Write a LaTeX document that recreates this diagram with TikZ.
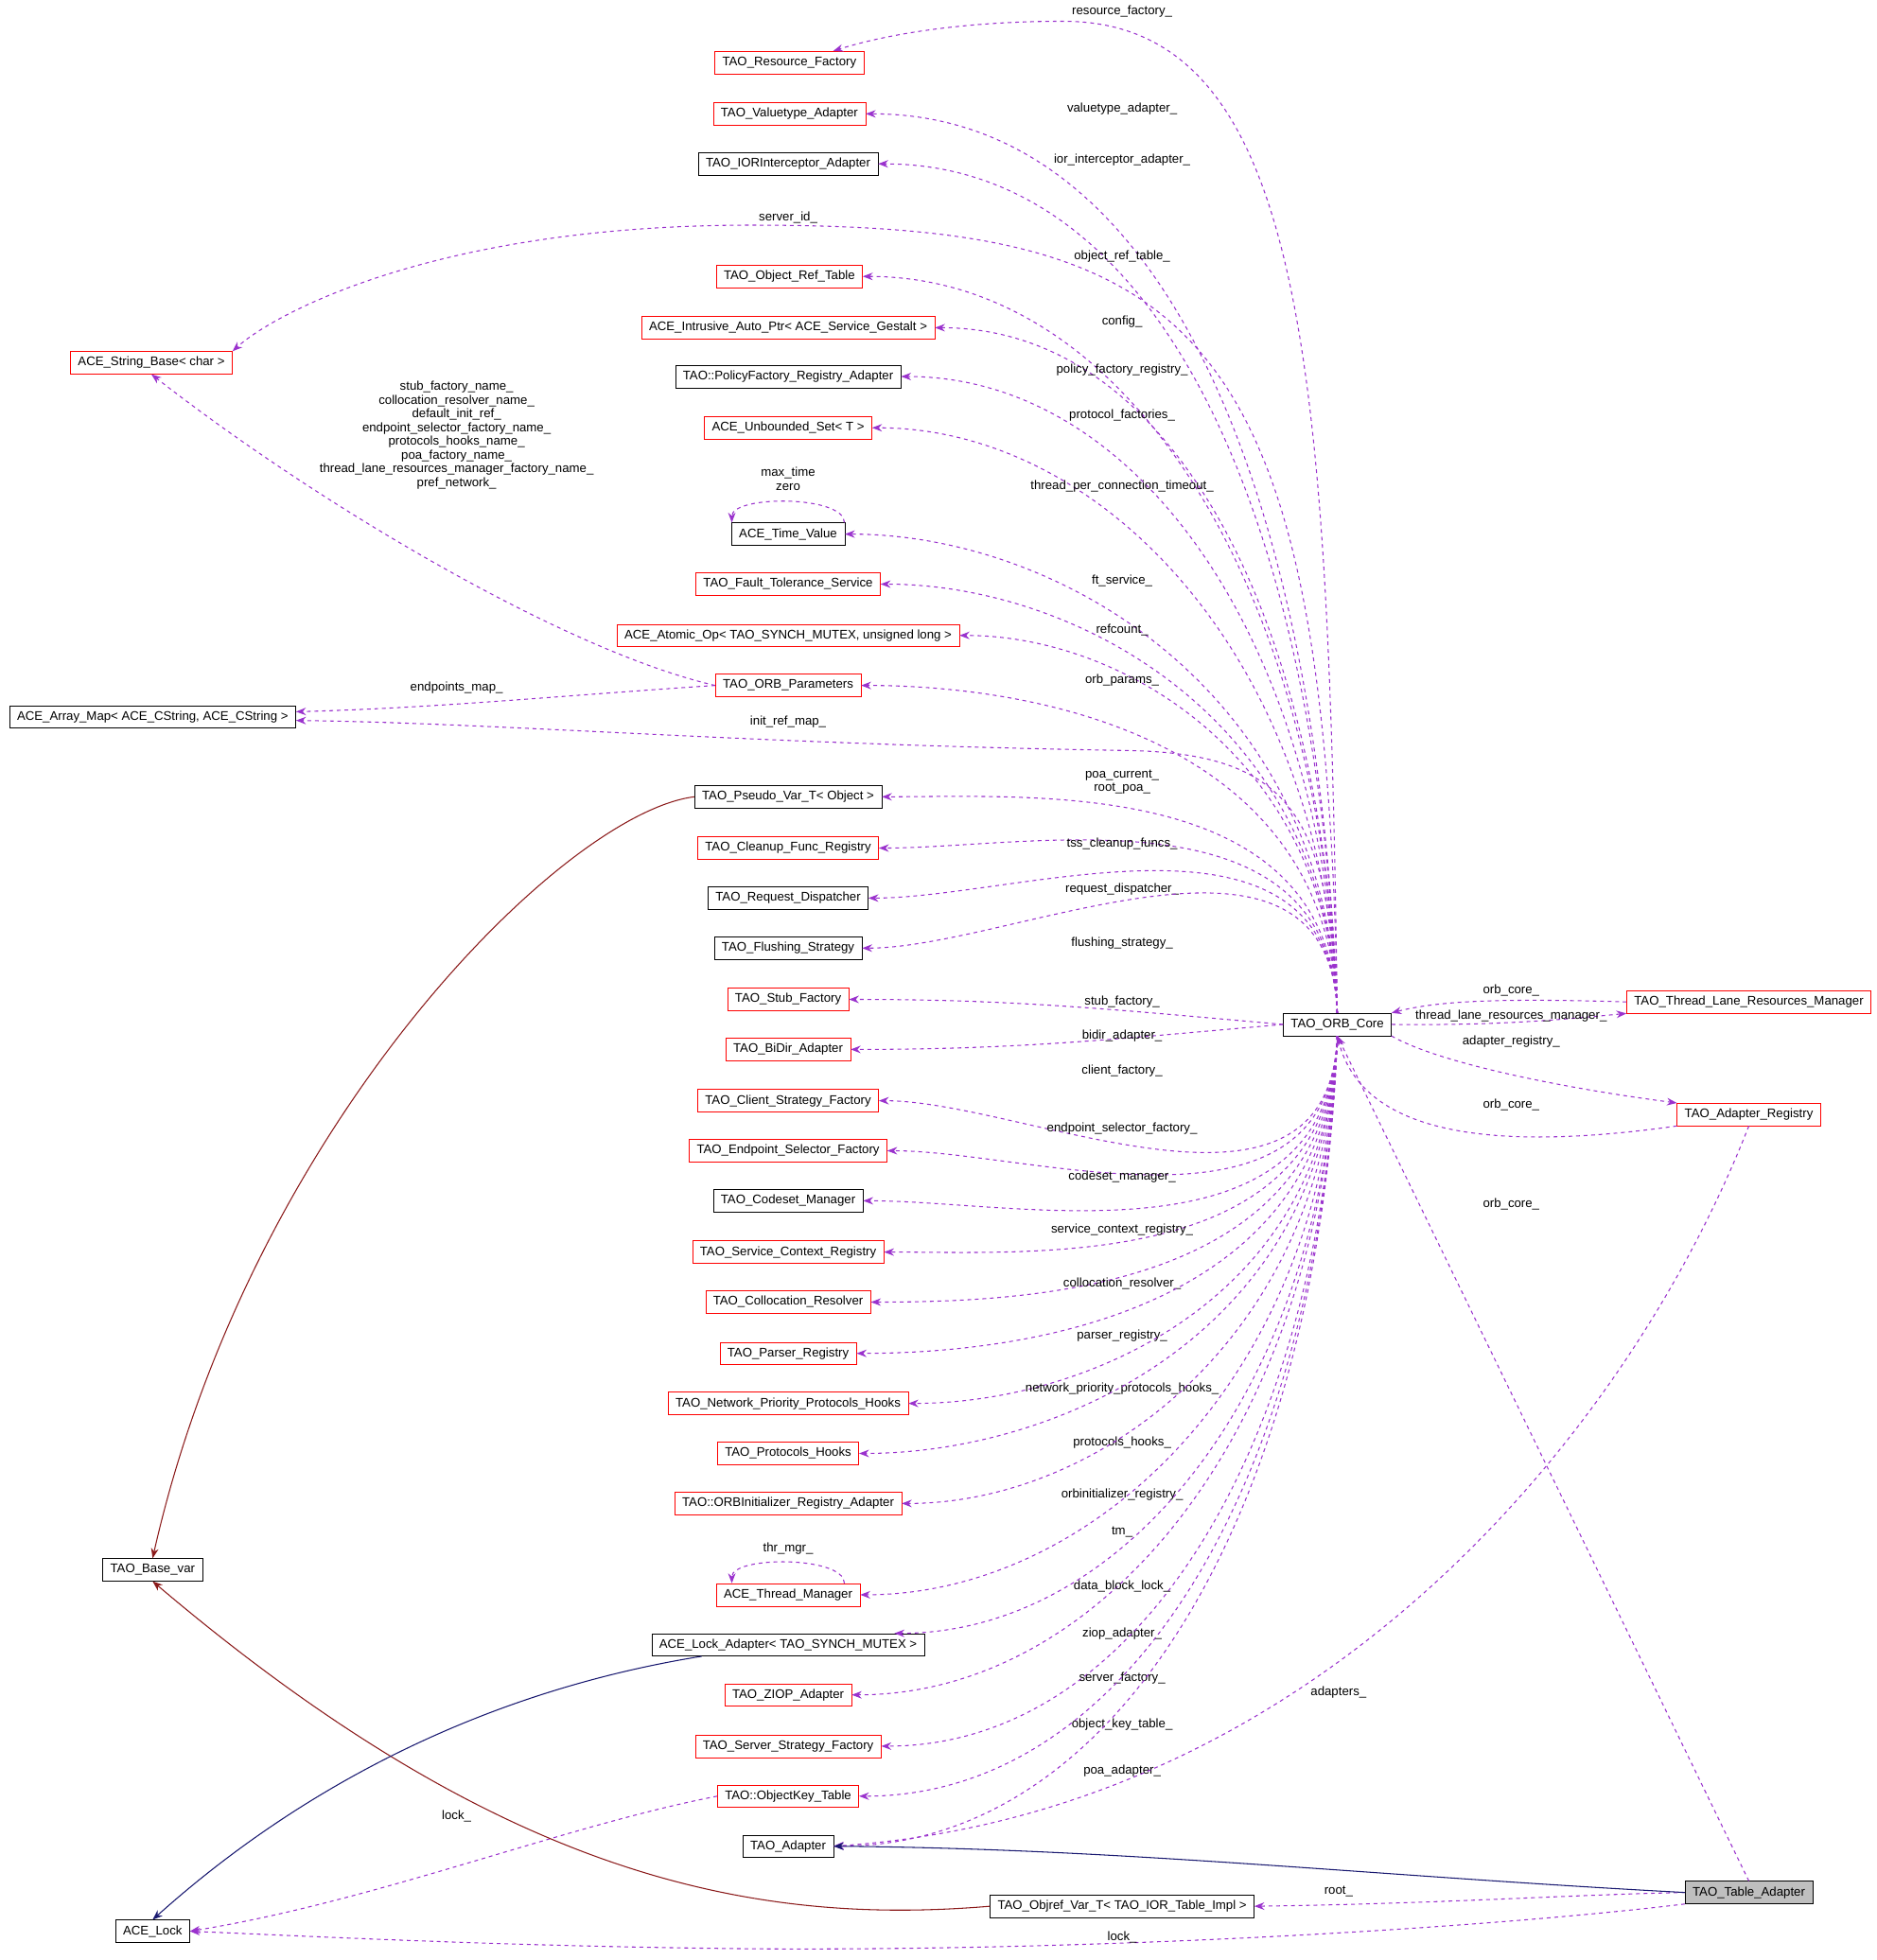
\documentclass[tikz,border=0pt]{standalone}
\usepackage{fontspec}
\setmainfont{Liberation Sans}
\usetikzlibrary{arrows.meta,calc}
\definecolor{dp}{HTML}{9A32CD}
\definecolor{dr}{HTML}{8B1A1A}
\definecolor{nv}{HTML}{191970}
\tikzset{
 x=1pt,y=1pt,
 box/.style={draw,minimum height=18pt,inner xsep=6pt,inner ysep=2pt,font=\fontsize{10}{11}\selectfont},
 rbox/.style={box,draw=red},
 bbox/.style={box,draw=black},
 dep/.style={dp,dashed,thick,-{Stealth[length=8pt,width=6pt]}},
 inh/.style={thick,-{Stealth[length=8pt,width=6pt]}},
 lab/.style={font=\fontsize{10}{11}\selectfont,align=center,inner sep=1pt},
 up/.style={out=92,in=0,out looseness=1.2,in looseness=0.8},
 dn/.style={out=-92,in=0,out looseness=1.2,in looseness=0.8},
}
\begin{document}
\begin{tikzpicture}
\useasboundingbox (0,0) rectangle (1500,-1567);
\node[rbox] (rf) at (631,-50) {TAO\_Resource\_Factory};
\node[rbox] (va) at (631,-91) {TAO\_Valuetype\_Adapter};
\node[bbox] (ior) at (630,-131) {TAO\_IORInterceptor\_Adapter};
\node[rbox] (ort) at (631,-221) {TAO\_Object\_Ref\_Table};
\node[rbox] (iap) at (630,-262) {ACE\_Intrusive\_Auto\_Ptr< ACE\_Service\_Gestalt >};
\node[bbox] (pfr) at (630,-301) {TAO::PolicyFactory\_Registry\_Adapter};
\node[rbox] (us) at (630,-342) {ACE\_Unbounded\_Set< T >};
\node[bbox] (tv) at (630,-427) {ACE\_Time\_Value};
\node[rbox] (ft) at (630,-467) {TAO\_Fault\_Tolerance\_Service};
\node[rbox] (ao) at (630,-508) {ACE\_Atomic\_Op< TAO\_SYNCH\_MUTEX, unsigned long >};
\node[rbox] (op) at (630,-548) {TAO\_ORB\_Parameters};
\node[rbox] (sb) at (121,-290) {ACE\_String\_Base< char >};
\node[bbox] (am) at (122,-573) {ACE\_Array\_Map< ACE\_CString, ACE\_CString >};
\node[bbox] (pv) at (630,-637) {TAO\_Pseudo\_Var\_T< Object >};
\node[rbox] (cf) at (630,-678) {TAO\_Cleanup\_Func\_Registry};
\node[bbox] (rd) at (630,-718) {TAO\_Request\_Dispatcher};
\node[bbox] (fs) at (630,-758) {TAO\_Flushing\_Strategy};
\node[rbox] (sf) at (630,-799) {TAO\_Stub\_Factory};
\node[rbox] (bd) at (630,-839) {TAO\_BiDir\_Adapter};
\node[rbox] (csf) at (630,-880) {TAO\_Client\_Strategy\_Factory};
\node[rbox] (esf) at (630,-920) {TAO\_Endpoint\_Selector\_Factory};
\node[bbox] (cm) at (630,-960) {TAO\_Codeset\_Manager};
\node[rbox] (scr) at (630,-1001) {TAO\_Service\_Context\_Registry};
\node[rbox] (cr) at (630,-1041) {TAO\_Collocation\_Resolver};
\node[rbox] (pr) at (630,-1082) {TAO\_Parser\_Registry};
\node[rbox] (np) at (630,-1122) {TAO\_Network\_Priority\_Protocols\_Hooks};
\node[rbox] (ph) at (630,-1162) {TAO\_Protocols\_Hooks};
\node[rbox] (oir) at (630,-1202) {TAO::ORBInitializer\_Registry\_Adapter};
\node[rbox] (tm) at (630,-1275) {ACE\_Thread\_Manager};
\node[bbox] (la) at (630,-1315) {ACE\_Lock\_Adapter< TAO\_SYNCH\_MUTEX >};
\node[rbox] (zi) at (630,-1355) {TAO\_ZIOP\_Adapter};
\node[rbox] (ssf) at (630,-1396) {TAO\_Server\_Strategy\_Factory};
\node[rbox] (okt) at (630,-1436) {TAO::ObjectKey\_Table};
\node[bbox] (ad) at (630,-1476) {TAO\_Adapter};
\node[bbox] (ov) at (897,-1524) {TAO\_Objref\_Var\_T< TAO\_IOR\_Table\_Impl >};
\node[bbox] (lk) at (122,-1544) {ACE\_Lock};
\node[bbox] (bv) at (122,-1255) {TAO\_Base\_var};
\node[bbox] (core) at (1069,-819) {TAO\_ORB\_Core};
\node[rbox] (tl) at (1398,-801) {TAO\_Thread\_Lane\_Resources\_Manager};
\node[rbox] (ar) at (1398,-891) {TAO\_Adapter\_Registry};
\node[bbox,fill=black!25] (ta) at (1398,-1513) {TAO\_Table\_Adapter};

% upward dependencies
\foreach \t/\l/\ly in {va/valuetype\_adapter\_/-87, ior/ior\_interceptor\_adapter\_/-128,
 ort/object\_ref\_table\_/-205, iap/config\_/-257, pfr/policy\_factory\_registry\_/-296, us/protocol\_factories\_/-332,
 tv/thread\_per\_connection\_timeout\_/-389, ft/ft\_service\_/-464, ao/refcount\_/-504, op/orb\_params\_/-544,
 pv/{poa\_current\_\\root\_poa\_}/-625, cf/tss\_cleanup\_funcs\_/-675, rd/request\_dispatcher\_/-711, fs/flushing\_strategy\_/-754}
 { \draw[dep] (core.north) to[up] (\t.east); \node[lab] at (897,\ly) {\l}; }
\draw[dep] (core.north) .. controls (1062,-300) and (1045,-17) .. (850,-17) .. controls (760,-17) and (700,-30) .. ([xshift=35]rf.north);
\node[lab] at (897,-9) {resource\_factory\_};
\draw[dep] (core.north) .. controls (1062,-650) and (1030,-602) .. (900,-600) .. controls (600,-595) and (400,-578) .. ([yshift=-3]am.east);
\node[lab] at (630,-577) {init\_ref\_map\_};
\draw[dep] (core.north) .. controls (1060,-250) and (950,-180) .. (600,-180) .. controls (350,-180) and (220,-250) .. (sb.north east);
\node[lab] at (630,-174) {server\_id\_};
\draw[dep] (core.west) to[out=175,in=0] (sf.east); \node[lab] at (897,-801) {stub\_factory\_};
\draw[dep] (core.west) to[out=185,in=0] (bd.east); \node[lab] at (897,-828) {bidir\_adapter\_};
% downward
\foreach \t/\l/\ly in {csf/client\_factory\_/-856, esf/endpoint\_selector\_factory\_/-902, cm/codeset\_manager\_/-941,
 scr/service\_context\_registry\_/-983, cr/collocation\_resolver\_/-1026, pr/parser\_registry\_/-1068,
 np/network\_priority\_protocols\_hooks\_/-1110, ph/protocols\_hooks\_/-1153, oir/orbinitializer\_registry\_/-1195,
 tm/tm\_/-1225, zi/ziop\_adapter\_/-1306, ssf/server\_factory\_/-1342, okt/object\_key\_table\_/-1379, ad/poa\_adapter\_/-1416}
 { \draw[dep] (core.south) to[dn] (\t.east); \node[lab] at (897,\ly) {\l}; }
\draw[dep] (core.south) to[dn] ([xshift=85]la.north); \node[lab] at (897,-1268) {data\_block\_lock\_};
% self loops
\draw[dep] ([xshift=45]tv.north) .. controls +(0,22) and +(0,22) .. ([xshift=-45]tv.north);
\node[lab] at (630,-383) {max\_time\\zero};
\draw[dep] ([xshift=45]tm.north) .. controls +(0,22) and +(0,22) .. ([xshift=-45]tm.north);
\node[lab] at (630,-1238) {thr\_mgr\_};
% parameters
\draw[dep] (op.west) .. controls (450,-556) and (350,-566) .. ([yshift=4]am.east); \node[lab] at (365,-550) {endpoints\_map\_};
\draw[dep] (op.west) .. controls (450,-520) and (250,-400) .. (sb.south);
\node[lab] at (365,-348) {stub\_factory\_name\_\\collocation\_resolver\_name\_\\default\_init\_ref\_\\endpoint\_selector\_factory\_name\_\\protocols\_hooks\_name\_\\poa\_factory\_name\_\\thread\_lane\_resources\_manager\_factory\_name\_\\pref\_network\_};
% right side
\draw[dep] (tl.west) .. controls (1200,-798) and (1150,-800) .. (core.north east); \node[lab] at (1208,-792) {orb\_core\_};
\draw[dep] (core.east) .. controls (1200,-820) and (1250,-815) .. (tl.south west); \node[lab] at (1208,-812) {thread\_lane\_resources\_manager\_};
\draw[dep] (core.south east) .. controls (1150,-850) and (1250,-870) .. (ar.north west); \node[lab] at (1208,-833) {adapter\_registry\_};
\draw[dep] (ar.south west) .. controls (1200,-920) and (1090,-910) .. (core.south); \node[lab] at (1208,-883) {orb\_core\_};
\draw[dep] (ta.north) -- (core.south); \node[lab] at (1208,-963) {orb\_core\_};
\draw[dep] (ar.south) .. controls (1300,-1150) and (1050,-1450) .. (ad.east); \node[lab] at (1070,-1353) {adapters\_};
\draw[dep] (ta.west) .. controls (1250,-1515) and (1150,-1522) .. (ov.east); \node[lab] at (1070,-1512) {root\_};
\draw[dep] (ta.south west) .. controls (1200,-1540) and (900,-1560) .. (600,-1558) .. controls (400,-1556) and (250,-1548) .. (lk.east); \node[lab] at (897,-1549) {lock\_};
\draw[dep] (okt.west) .. controls (450,-1460) and (300,-1520) .. (lk.east); \node[lab] at (365,-1452) {lock\_};
% inheritance
\draw[inh,dr] (pv.west) .. controls (450,-650) and (200,-900) .. (bv.north);
\draw[inh,dr] (ov.west) .. controls (600,-1540) and (400,-1500) .. (bv.south);
\draw[inh,nv] ([xshift=40]la.south west) .. controls (400,-1350) and (250,-1420) .. (lk.north);
\draw[inh,nv] (ta.west) .. controls (1100,-1500) and (900,-1478) .. (ad.east);
\end{tikzpicture}
\end{document}
